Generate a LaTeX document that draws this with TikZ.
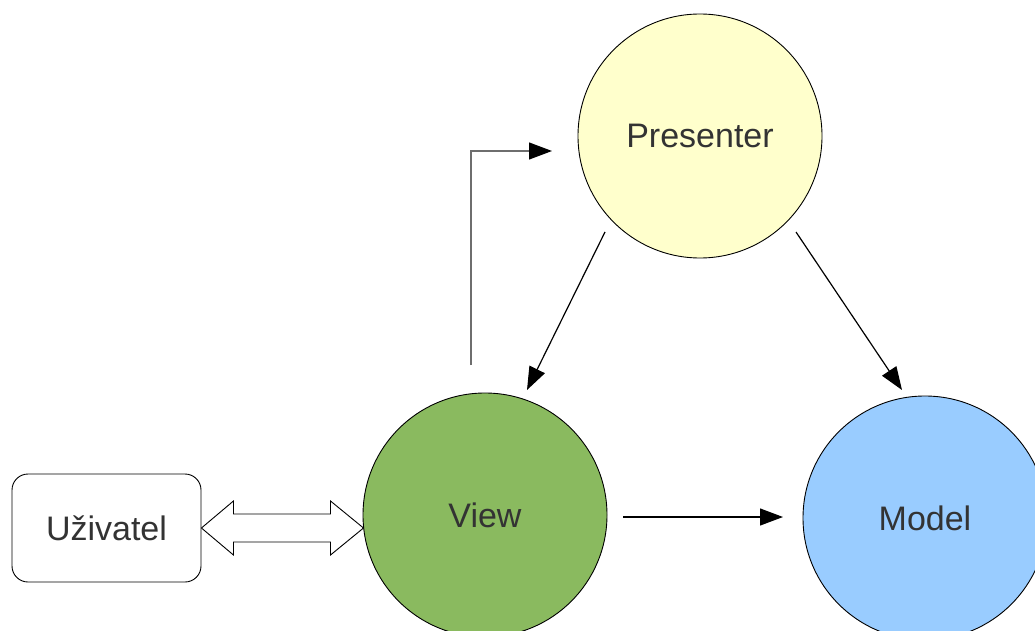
\documentclass[tikz,border=0pt]{standalone}
\usepackage{fontspec}
\setmainfont{Liberation Sans}
\usetikzlibrary{arrows.meta,calc}
\definecolor{txt}{HTML}{333333}
\definecolor{pfill}{HTML}{FFFFCC}
\definecolor{vfill}{HTML}{8ABA5F}
\definecolor{mfill}{HTML}{99CCFF}
\definecolor{elb}{HTML}{6E6E6E}
\tikzset{
  circ/.style={circle,draw=black,line width=0.9pt,minimum size=244pt,inner sep=0pt,
    text=txt,font=\fontsize{34}{40}\selectfont},
  userbox/.style={draw=black,line width=0.9pt,rounded corners=16pt,minimum width=189pt,
    minimum height=108pt,inner sep=0pt,text=txt,font=\fontsize{34}{40}\selectfont},
  arr/.style={draw=black,line width=1.2pt,-{Triangle[length=23pt,width=17pt,color=black]}},
}
\begin{document}
\begin{tikzpicture}[x=1pt,y=-1pt]
\useasboundingbox (0,0) rectangle (1035,631);
\clip (0,0) rectangle (1035,631);
\fill[white] (0,0) rectangle (1035,631);
\node[circ,fill=pfill] (p) at (700,136) {Presenter};
\node[circ,fill=vfill] (v) at (485,515) {View};
\node[circ,fill=mfill] (m) at (925,518) {Model};
\node[userbox] (u) at (106.5,528) {Uživatel};
% double arrow between user and view
\coordinate (ua) at (u.east);
\coordinate (va) at ($(v.center)+(-121.5,13)$);
\draw[black,line width=0.9pt,fill=white,line join=miter]
  (ua) -- ($(ua)+(32,-27)$) -- ($(ua)+(32,-14)$) -- ($(va)+(-33,-14)$) -- ($(va)+(-33,-27)$)
  -- (va) -- ($(va)+(-33,27)$) -- ($(va)+(-33,14)$) -- ($(ua)+(32,14)$) -- ($(ua)+(32,27)$) -- cycle;
% elbow arrow from view up to presenter
\coordinate (e0) at ($(v.center)+(-14,-150)$);
\coordinate (e1) at ($(p.center)+(-148,15)$);
\draw[arr,draw=elb] (e0) |- (e1);
% presenter -> view
\draw[arr] ($(p.center)+(-95,96)$) -- ($(v.center)+(42,-125)$);
% presenter -> model
\draw[arr] ($(p.center)+(96,96)$) -- ($(m.center)+(-23,-128)$);
% view -> model
\draw[arr] ($(v.center)+(138,2)$) -- ($(m.center)+(-142,-1)$);
\end{tikzpicture}
\end{document}
